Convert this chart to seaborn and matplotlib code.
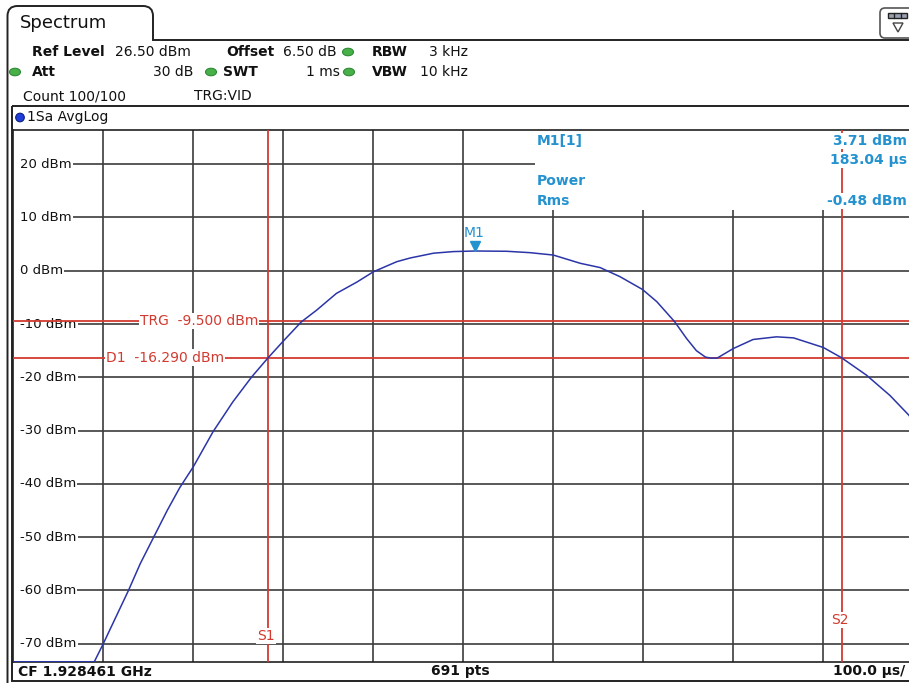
import numpy as np
import pandas as pd
import matplotlib
matplotlib.use("Agg")
import matplotlib.pyplot as plt
import matplotlib.transforms as mtrans
from matplotlib.path import Path
from matplotlib.patches import PathPatch, Rectangle, Ellipse, FancyBboxPatch, Circle, Polygon
import seaborn as sns

# ---------------- data ----------------
time_us = [0, 90, 100, 114, 128, 141, 156, 171, 185, 200, 222, 244, 265, 283.3, 300, 320,
           337, 359, 382, 400, 426, 441, 467, 489, 513, 548, 574, 600, 630, 652, 674,
           699, 715, 735, 748, 759, 769, 775, 782, 790, 800, 822, 848, 867, 900, 920,
           948, 974, 995, 1000]
power_dbm = [-73.4, -73.4, -70, -65, -60, -55, -50, -45, -40.7, -36.8, -30.2, -24.6, -19.9, -16.3, -13.2, -9.6,
             -7.4, -4.25, -2.1, -0.2, 1.7, 2.4, 3.3, 3.6, 3.71, 3.66, 3.4, 2.95, 1.4, 0.6, -1.1,
             -3.5, -5.8, -9.6, -12.7, -15.0, -16.2, -16.4, -16.4, -15.6, -14.6, -12.9, -12.4, -12.6, -14.4, -16.3,
             -19.6, -23.4, -27.1, -28.3]

ytick_values = [20, 10, 0, -10, -20, -30, -40, -50, -60, -70]
ytick_labels = ["20 dBm", "10 dBm", "0 dBm", "-10 dBm", "-20 dBm", "-30 dBm",
                "-40 dBm", "-50 dBm", "-60 dBm", "-70 dBm"]
xtick_values = [0, 100, 200, 300, 400, 500, 600, 700, 800, 900, 1000]
ref_level = 26.5
bottom_level = -73.5
sweep_us = 1000

trg_level = -9.5
trg_label = "TRG  -9.500 dBm"
d1_level = -16.29
d1_label = "D1  -16.290 dBm"
s1_time = 283.3
s2_time = 920.4
m1_time = 513
m1_level = 3.71

marker_lines_left = ["M1[1]", "Power", "Rms"]
marker_lines_right = ["3.71 dBm", "183.04 µs", "-0.48 dBm"]

header_row1 = [("Ref Level", True), ("26.50 dBm", False), ("Offset", True),
               ("6.50 dB", False), ("RBW", True), ("3 kHz", False)]
header_row2 = [("Att", True), ("30 dB", False), ("SWT", True),
               ("1 ms", False), ("VBW", True), ("10 kHz", False)]
header_row3 = ["Count 100/100", "TRG:VID"]
trace_label = "1Sa AvgLog"
status_labels = ["CF 1.928461 GHz", "691 pts", "100.0 µs/"]
tab_title = "Spectrum"

# ---------------- style ----------------
sns.set_theme(style="white")
plt.rcParams['font.family'] = ['DejaVu Sans']

curve_col = "#2b35a8"
red = "#d23a30"
mblue = "#2592d0"
grid_col = "#3c3c3c"

W, H = 909, 683
fig = plt.figure(figsize=(W / 100, H / 100), dpi=100)
fig.patch.set_facecolor("white")

# overlay in pixel coordinates
ov = fig.add_axes([0, 0, 1, 1])
ov.set_xlim(0, W)
ov.set_ylim(H, 0)
ov.axis("off")

# main plot area
ax_l, ax_r, ax_t, ax_b = 13.3, 913.3, 129.6, 662.3
ax = fig.add_axes([ax_l / W, 1 - ax_b / H, (ax_r - ax_l) / W, (ax_b - ax_t) / H])
ax.set_facecolor("white")

df = pd.DataFrame({"time": time_us, "power": power_dbm})
sns.lineplot(data=df, x="time", y="power", ax=ax, color=curve_col, lw=1.1, zorder=4)

ax.set_xlim(0, sweep_us)
ax.set_ylim(bottom_level, ref_level)
ax.set_xticks(xtick_values)
ax.set_yticks(ytick_values)
ax.set_axisbelow(True)
ax.grid(True, color=grid_col, lw=1.2)
ax.tick_params(length=0, labelbottom=False, labelleft=False)
ax.set_xlabel("")
ax.set_ylabel("")
for sp in ax.spines.values():
    sp.set_color("#202020")
    sp.set_linewidth(1.2)

px2t = lambda px: (px - ax_l) / (ax_r - ax_l) * sweep_us
px2p = lambda py: ref_level - (py - ax_t) / (ax_b - ax_t) * (ref_level - bottom_level)

# blank marker-info region (covers the grid)
ax.add_patch(Rectangle((px2t(535), px2p(210)), sweep_us, ref_level - px2p(210) + 1,
                       facecolor="white", edgecolor="none", zorder=1))
# blank strip left of the level labels
ax.add_patch(Rectangle((0, bottom_level), px2t(19.5), ref_level - bottom_level,
                       facecolor="white", edgecolor="none", zorder=1))

# y labels inside plot
blend = mtrans.blended_transform_factory(ov.transData, ax.transData)
for v, lab in zip(ytick_values, ytick_labels):
    ax.text(19.5, v, lab, transform=blend, ha="left", va="center", fontsize=9.5,
            color="#111111", zorder=2,
            bbox=dict(facecolor="white", edgecolor="none", pad=1.2))

# red lines
ax.axhline(trg_level, color=red, lw=1.3, zorder=3)
ax.axhline(d1_level, color=red, lw=1.3, zorder=3)
ax.axvline(s1_time, color=red, lw=1.3, zorder=3)
ax.axvline(s2_time, color=red, lw=1.3, zorder=3)
ax.text(199, trg_level, trg_label, transform=blend, ha="center", va="center",
        fontsize=10, color=red, zorder=3.5,
        bbox=dict(facecolor="white", edgecolor="none", pad=0.8))
ax.text(165, d1_level, d1_label, transform=blend, ha="center", va="center",
        fontsize=10, color=red, zorder=3.5,
        bbox=dict(facecolor="white", edgecolor="none", pad=0.8))
ax.text(266, 636, "S1", transform=ov.transData, ha="center", va="center",
        fontsize=10, color=red, zorder=3.5,
        bbox=dict(facecolor="white", edgecolor="none", pad=0.8))
ax.text(840, 620, "S2", transform=ov.transData, ha="center", va="center",
        fontsize=10, color=red, zorder=3.5,
        bbox=dict(facecolor="white", edgecolor="none", pad=0.8))

# marker M1
tri_tr = mtrans.offset_copy(ax.transData, fig=fig, x=0, y=3.5, units="points")
ax.plot([m1_time], [m1_level], marker="v", ms=7, color=mblue, transform=tri_tr,
        zorder=5, clip_on=False)
ax.annotate("M1", xy=(m1_time, m1_level), xytext=(-1, 13), textcoords="offset points",
            ha="center", va="center", fontsize=10, color=mblue, zorder=5)

# marker info text
for txt, y in zip(marker_lines_left, [141, 181, 201]):
    ax.text(537, y, txt, transform=ov.transData, ha="left", va="center", fontsize=10,
            fontweight="bold", color=mblue, zorder=6)
for txt, y in zip(marker_lines_right, [141, 160, 201]):
    ax.text(907, y, txt, transform=ov.transData, ha="right", va="center", fontsize=10,
            fontweight="bold", color=mblue, zorder=6,
            bbox=dict(facecolor="white", edgecolor="none", pad=0.5))

# ---------------- frame / header ----------------
verts = [(7.5, 683), (7.5, 16), (7.5, 6), (17.5, 6), (143, 6), (153, 6), (153, 16),
         (153, 40), (909, 40)]
codes = [Path.MOVETO, Path.LINETO, Path.CURVE3, Path.CURVE3, Path.LINETO,
         Path.CURVE3, Path.CURVE3, Path.LINETO, Path.LINETO]
ov.add_patch(PathPatch(Path(verts, codes), facecolor="none", edgecolor="#222222", lw=1.4))
ov.text(20, 23, tab_title, ha="left", va="center", fontsize=13, color="#111111")

# top-right icon
ov.add_patch(FancyBboxPatch((880, 8), 40, 30, boxstyle="round,pad=0,rounding_size=5",
                            facecolor="white", edgecolor="#555555", lw=1.2))
ov.add_patch(Rectangle((888, 12.5), 19, 5, facecolor="#9aa0b0", edgecolor="#222222", lw=1))
ov.plot([894.3, 894.3], [12.5, 17.5], color="#222222", lw=1)
ov.plot([900.6, 900.6], [12.5, 17.5], color="#222222", lw=1)
ov.add_patch(Polygon([(893, 23), (903, 23), (898, 32)], closed=True, facecolor="white",
                     edgecolor="#444444", lw=1))

# graph box
ov.add_patch(Rectangle((12.3, 105.5), 920, 575, facecolor="none", edgecolor="#222222", lw=1.4))

def dot(x, y):
    ov.add_patch(Ellipse((x, y), 11, 7.5, facecolor="#48b048", edgecolor="#2f8a35", lw=0.8))

fs = 10
r1y, r2y, r3y = 52, 72, 96.5
pos1 = [(32, "left"), (115, "left"), (226, "left"), (283, "left"), (372, "left"), (468, "right")]
for (txt, b), (x, ha) in zip(header_row1, pos1):
    ov.text(x, r1y, txt, ha=ha, va="center", fontsize=fs,
            fontweight="bold" if b else "normal", color="#111111")
pos2 = [(32, "left"), (193, "right"), (223, "left"), (340, "right"), (372, "left"), (468, "right")]
for (txt, b), (x, ha) in zip(header_row2, pos2):
    ov.text(x, r2y, txt, ha=ha, va="center", fontsize=fs,
            fontweight="bold" if b else "normal", color="#111111")
dot(348, r1y)
dot(15, r2y)
dot(211, r2y)
dot(349, r2y)
ov.text(23, r3y, header_row3[0], ha="left", va="center", fontsize=fs, color="#111111")
ov.text(194, r3y, header_row3[1], ha="left", va="center", fontsize=fs, color="#111111")

# trace label row
ov.add_patch(Circle((20, 117.5), 4.3, facecolor="#1f3fd8", edgecolor="#0c1c80", lw=0.8))
ov.text(27, 117.5, trace_label, ha="left", va="center", fontsize=fs, color="#111111")

# status bar
ov.text(18, 671.5, status_labels[0], ha="left", va="center", fontsize=fs,
        fontweight="bold", color="#111111")
ov.text(460, 671.5, status_labels[1], ha="center", va="center", fontsize=fs,
        fontweight="bold", color="#111111")
ov.text(905, 671.5, status_labels[2], ha="right", va="center", fontsize=fs,
        fontweight="bold", color="#111111")

fig.savefig("out.png", dpi=100, facecolor="white")
